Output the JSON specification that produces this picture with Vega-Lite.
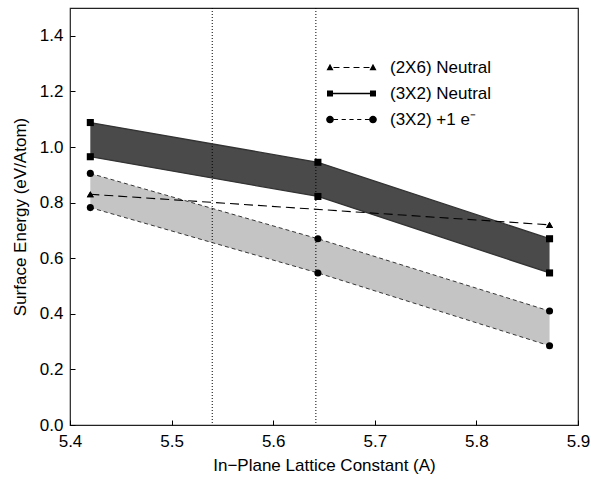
{
  "$schema": "https://vega.github.io/schema/vega-lite/v6.json",
  "autosize": "none",
  "width": 508,
  "height": 417,
  "padding": {"left": 70, "top": 8, "right": 13, "bottom": 59},
  "background": "white",
  "config": {
    "view": {"stroke": "#222222", "strokeWidth": 1.2, "fill": null},
    "font": "Liberation Sans",
    "axis": {
      "domain": false, "grid": false, "labelOverlap": false, "ticks": true,
      "labelFont": "Liberation Sans", "labelFontSize": 17, "labelColor": "black",
      "titleFont": "Liberation Sans", "titleFontSize": 17, "titleFontWeight": "normal", "titleColor": "black",
      "tickColor": "black", "tickWidth": 1, "tickOpacity": 1
    },
    "legend": {"labelFont": "Liberation Sans", "labelFontSize": 17, "labelColor": "black"}
  },
  "data": {"values": [
    {"series": "(2X6) Neutral", "x": 5.42, "lo": 0.83, "hi": 0.83},
    {"series": "(2X6) Neutral", "x": 5.872, "lo": 0.72, "hi": 0.72},
    {"series": "(3X2) Neutral", "x": 5.42, "lo": 0.965, "hi": 1.088},
    {"series": "(3X2) Neutral", "x": 5.644, "lo": 0.822, "hi": 0.945},
    {"series": "(3X2) Neutral", "x": 5.872, "lo": 0.547, "hi": 0.67},
    {"series": "(3X2) +1 e⁻", "x": 5.42, "lo": 0.782, "hi": 0.905},
    {"series": "(3X2) +1 e⁻", "x": 5.644, "lo": 0.547, "hi": 0.67},
    {"series": "(3X2) +1 e⁻", "x": 5.872, "lo": 0.285, "hi": 0.41}
  ]},
  "layer": [
    {
      "transform": [{"filter": "datum.series === '(3X2) +1 e⁻'"}],
      "mark": {"type": "area", "color": "#c4c4c4", "opacity": 1},
      "encoding": {
        "x": {"field": "x", "type": "quantitative", "scale": {"domain": [5.4, 5.9], "nice": false, "zero": false},
          "title": "In−Plane Lattice Constant (A)",
          "axis": {
            "values": [5.4, 5.5, 5.6, 5.7, 5.8, 5.9],
            "format": ".1f", "zindex": 3,
            "tickSize": -5, "tickColor": "black", "ticks": true,
            "labelPadding": 13, "titlePadding": 8, "labelFlush": false, "labelOverlap": false, "labelBound": false
          }},
        "y": {"field": "lo", "type": "quantitative", "scale": {"domain": [0, 1.5], "nice": false},
          "title": "Surface Energy (eV/Atom)",
          "axis": {
            "values": [0, 0.1, 0.2, 0.3, 0.4, 0.5, 0.6, 0.7, 0.8, 0.9, 1.0, 1.1, 1.2, 1.3, 1.4],
            "labelExpr": "round(datum.value*10)%2==0 ? format(datum.value,'.1f') : ''",
            "zindex": 3, "tickSize": -5, "tickColor": "black", "ticks": true,
            "labelPadding": 12, "titlePadding": 10, "labelOverlap": false
          }},
        "y2": {"field": "hi"}
      }
    },
    {
      "transform": [{"filter": "datum.series === '(3X2) Neutral'"}],
      "mark": {"type": "area", "color": "#4a4a4a", "opacity": 1},
      "encoding": {
        "x": {"field": "x", "type": "quantitative"},
        "y": {"field": "lo", "type": "quantitative"},
        "y2": {"field": "hi"}
      }
    },
    {
      "data": {"values": [{"v": 5.54}, {"v": 5.642}]},
      "mark": {"type": "rule", "color": "black", "strokeWidth": 1, "strokeDash": [1, 2]},
      "encoding": {"x": {"field": "v", "type": "quantitative"}}
    },
    {
      "transform": [{"filter": "datum.series === '(3X2) Neutral'"}, {"fold": ["lo", "hi"], "as": ["edge", "val"]}],
      "mark": {"type": "line", "color": "#333333", "strokeWidth": 1.3},
      "encoding": {
        "x": {"field": "x", "type": "quantitative"},
        "y": {"field": "val", "type": "quantitative"},
        "detail": {"field": "edge"}
      }
    },
    {
      "transform": [{"filter": "datum.series === '(3X2) +1 e⁻'"}, {"fold": ["lo", "hi"], "as": ["edge", "val"]}],
      "mark": {"type": "line", "color": "#222222", "strokeWidth": 0.9, "strokeDash": [4, 3]},
      "encoding": {
        "x": {"field": "x", "type": "quantitative"},
        "y": {"field": "val", "type": "quantitative"},
        "detail": {"field": "edge"}
      }
    },
    {
      "transform": [{"filter": "datum.series === '(2X6) Neutral'"}],
      "mark": {"type": "line", "color": "black", "strokeWidth": 1.1, "strokeDash": [9, 5]},
      "encoding": {
        "x": {"field": "x", "type": "quantitative"},
        "y": {"field": "lo", "type": "quantitative"}
      }
    },
    {
      "transform": [{"fold": ["lo", "hi"], "as": ["edge", "val"]}],
      "mark": {"type": "point", "filled": true, "color": "black", "opacity": 1, "size": 50},
      "encoding": {
        "x": {"field": "x", "type": "quantitative"},
        "y": {"field": "val", "type": "quantitative"},
        "shape": {"field": "series", "type": "nominal",
          "scale": {"domain": ["(2X6) Neutral", "(3X2) Neutral", "(3X2) +1 e⁻"], "range": ["triangle-up", "square", "circle"]},
          "legend": null}
      }
    },
    {
      "mark": {"type": "point", "filled": true, "color": "black", "opacity": 0, "size": 196},
      "encoding": {
        "x": {"field": "x", "type": "quantitative"},
        "y": {"field": "lo", "type": "quantitative"},
        "shape": {"field": "series", "type": "nominal",
          "scale": {"domain": ["(2X6) Neutral", "(3X2) Neutral", "(3X2) +1 e⁻"],
            "range": [
              "M-3.07,-0.55L-2.57,0.4L-3.57,0.4Z M3.07,-0.55L3.57,0.4L2.57,0.4Z M-2.57,-0.08L-1.72,-0.08L-1.72,0.08L-2.57,0.08Z M-1.14,-0.08L-0.29,-0.08L-0.29,0.08L-1.14,0.08Z M0.29,-0.08L1.14,-0.08L1.14,0.08L0.29,0.08Z M1.72,-0.08L2.57,-0.08L2.57,0.08L1.72,0.08Z",
              "M-3.5,-0.43L-2.64,-0.43L-2.64,0.43L-3.5,0.43Z M2.64,-0.43L3.5,-0.43L3.5,0.43L2.64,0.43Z M-2.64,-0.09L2.64,-0.09L2.64,0.09L-2.64,0.09Z",
              "M-2.52,0A0.55,0.55 0 1,1 -3.62,0A0.55,0.55 0 1,1 -2.52,0Z M3.62,0A0.55,0.55 0 1,1 2.52,0A0.55,0.55 0 1,1 3.62,0Z M-2.52,-0.07L-1.92,-0.07L-1.92,0.07L-2.52,0.07Z M-1.41,-0.07L-0.81,-0.07L-0.81,0.07L-1.41,0.07Z M-0.3,-0.07L0.3,-0.07L0.3,0.07L-0.3,0.07Z M0.81,-0.07L1.41,-0.07L1.41,0.07L0.81,0.07Z M1.92,-0.07L2.52,-0.07L2.52,0.07L1.92,0.07Z"
            ]},
          "legend": {"title": null, "orient": "none", "legendX": 273, "legendY": 51,
            "symbolOpacity": 1, "symbolSize": 196, "symbolFillColor": "black",
            "rowPadding": 8, "labelOffset": 30}}
      }
    }
  ],
  "resolve": {"scale": {"shape": "independent"}, "legend": {"shape": "independent"}}
}
